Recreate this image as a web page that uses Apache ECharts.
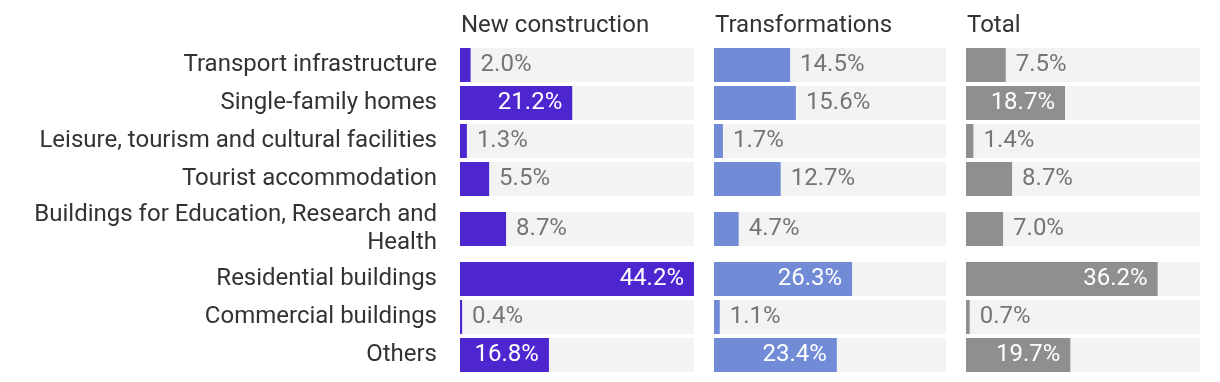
<!DOCTYPE html>
<html><head><meta charset="utf-8">
<script src="https://cdn.jsdelivr.net/npm/echarts@6/dist/echarts.min.js"></script>
<style>html,body{margin:0;padding:0;background:#fff}#c{width:1220px;height:382px}</style>
</head><body><div id="c"></div>
<script>
const categories = ['Transport infrastructure','Single-family homes','Leisure, tourism and cultural facilities','Tourist accommodation','Buildings for Education, Research and\nHealth','Residential buildings','Commercial buildings','Others'];
const panelTitles = ['New construction','Transformations','Total'];
const newConstruction = [2.0,21.2,1.3,5.5,8.7,44.2,0.4,16.8];
const transformations = [14.5,15.6,1.7,12.7,4.7,26.3,1.1,23.4];
const total = [7.5,18.7,1.4,8.7,7.0,36.2,0.7,19.7];

const panels = [newConstruction, transformations, total];
const colors = ['#4d26d0', '#718bd6', '#8f8f8f'];
const layout = { lefts: [460, 714, 966], widths: [234, 232, 234], firstTop: 48, barH: 34, gap: 4, extraPerLine: 12 };
const FONT = 'Roboto, "Noto Sans", sans-serif';
const maxVal = Math.max(...newConstruction, ...transformations, ...total);

const rowTops = [];
let t = layout.firstTop;
categories.forEach((c) => {
  const extra = (c.split('\n').length - 1) * layout.extraPerLine;
  t += extra;
  rowTops.push(t);
  t += layout.barH + layout.gap + extra;
});

const grid = [], xAxis = [], yAxis = [], series = [];
categories.forEach((cat, r) => {
  panels.forEach((vals, p) => {
    const g = grid.length;
    grid.push({ left: layout.lefts[p], top: rowTops[r], width: layout.widths[p], height: layout.barH });
    xAxis.push({ gridIndex: g, type: 'value', min: 0, max: maxVal, show: false });
    yAxis.push({
      gridIndex: g, type: 'category', data: [cat],
      axisLine: { show: false }, axisTick: { show: false },
      axisLabel: { show: p === 0, margin: 23, fontSize: 24, lineHeight: 28, color: '#333', fontFamily: FONT, align: 'right', padding: [4, 0, 0, 0] }
    });
    const v = vals[r];
    const inside = v >= 16;
    series.push({
      type: 'bar', xAxisIndex: g, yAxisIndex: g, barWidth: layout.barH,
      showBackground: true, backgroundStyle: { color: '#f3f3f3' },
      itemStyle: { color: colors[p] },
      label: {
        show: true, position: inside ? 'insideRight' : 'right', distance: 10,
        color: inside ? '#ffffff' : '#757575', fontSize: 24, fontFamily: FONT,
        padding: [3, 0, 0, 0],
        formatter: (d) => d.value.toFixed(1) + '%'
      },
      data: [v]
    });
  });
});

const title = panelTitles.map((s, p) => ({
  text: s, left: layout.lefts[p] + 1, top: 14, padding: 0,
  textStyle: { fontSize: 24, fontWeight: 'normal', color: '#333', fontFamily: FONT }
}));

const chart = echarts.init(document.getElementById('c'), null, { renderer: 'canvas' });
chart.setOption({ animation: false, title, grid, xAxis, yAxis, series });
</script></body></html>
